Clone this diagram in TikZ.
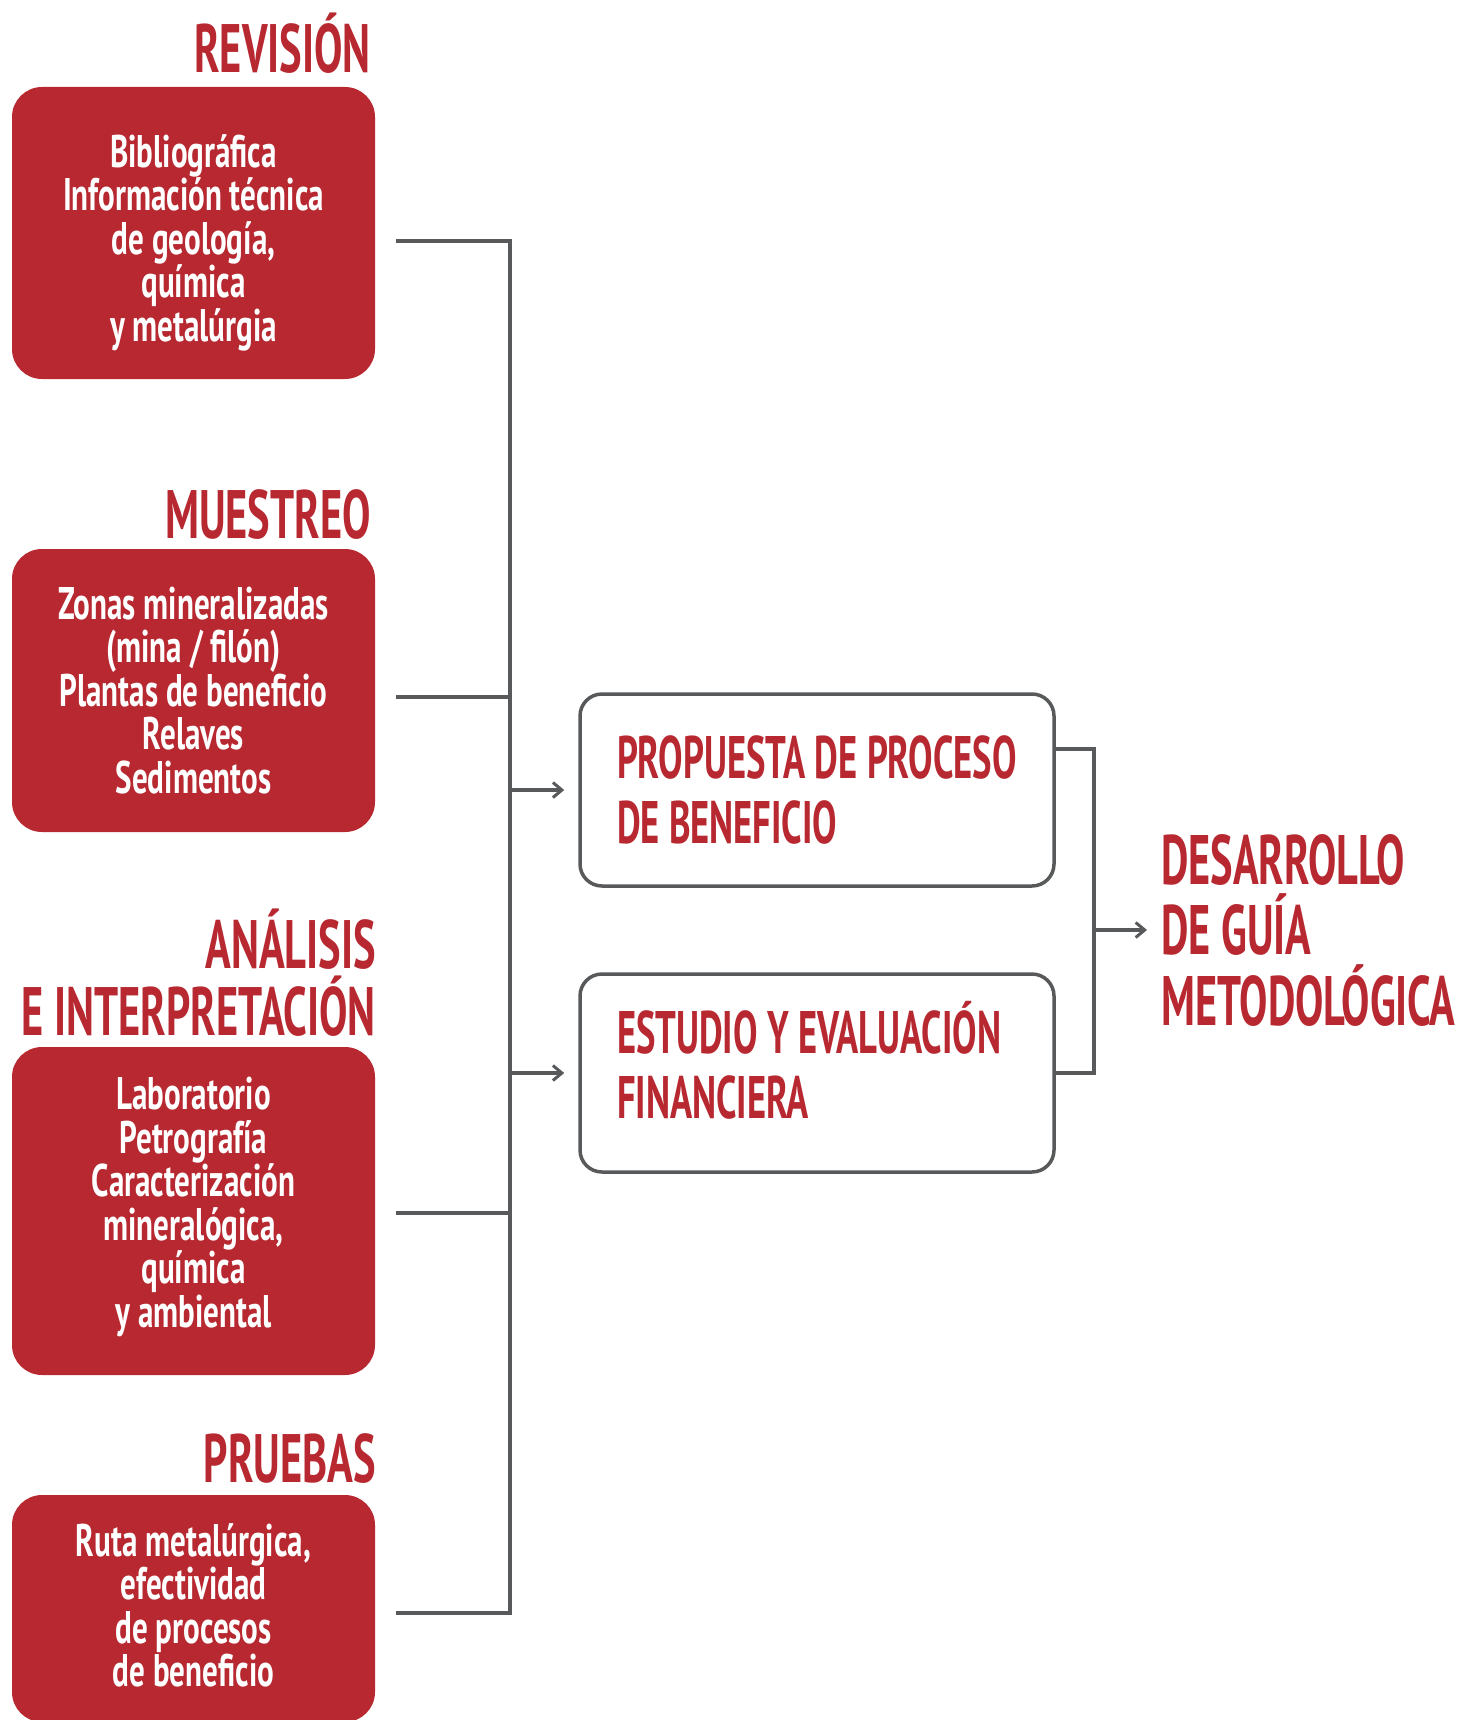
\documentclass[tikz,border=0pt]{standalone}
\usepackage{fontspec}
\setmainfont{PT Sans}
\newfontfamily\headfont{PT Sans}[FakeStretch=0.62]
\newfontfamily\stepfont{PT Sans}[FakeStretch=0.61]
\newfontfamily\goalfont{PT Sans}[FakeStretch=0.605]
\newfontfamily\boxfont{PT Sans}[FakeStretch=0.68]
\usepackage{xcolor}
\usepackage{tikz}
\usetikzlibrary{arrows.meta,calc}
\usetikzlibrary{positioning}

\definecolor{minered}{RGB}{183,40,48}
\definecolor{linegray}{RGB}{88,89,91}

\newcommand{\boxtext}{\boxfont\bfseries\fontsize{45.7}{43.5}\selectfont}
\newcommand{\headtext}{\headfont\bfseries\fontsize{68.5}{67}\selectfont}
\newcommand{\steptext}{\stepfont\bfseries\fontsize{60}{65}\selectfont}
\newcommand{\goaltext}{\goalfont\bfseries\fontsize{70}{70.5}\selectfont}

\tikzset{
  redbox/.style={fill=minered, rounded corners=30pt, minimum width=363pt, text=white, align=center, font=\boxtext, inner sep=0pt},
  heading/.style={text=minered, font=\headtext, inner sep=0pt, align=right},
  stepbox/.style={draw=linegray, line width=3.5pt, rounded corners=22pt, minimum width=474pt, text width=410pt, align=flush left, text=minered, font=\steptext, inner xsep=32pt, inner ysep=0pt, execute at begin node={\leftskip=5pt}},
  link/.style={draw=linegray, line width=3.5pt},
  tip/.style={-{Straight Barb[length=9pt,width=15pt,line width=3pt]}}
}

\begin{document}
\begin{tikzpicture}[x=1pt,y=-1pt]
\useasboundingbox (0,0) rectangle (1464,1720);

% Headings (base = last line)
\node[heading, anchor=base east] (hrev) at (371,73) {REVISIÓN};
\node[heading, anchor=base east] (hmue) at (371,538) {MUESTREO};
\node[heading, anchor=base east] (hana) at (376,1035) {ANÁLISIS\\E INTERPRETACIÓN};
\node[heading, anchor=base east] (hpru) at (376,1482) {PRUEBAS};

% Red boxes
\node[redbox, minimum height=292pt] (rev) at (193.5,233) {\rule{0pt}{52pt}Bibliográfica\\Información técnica\\de geología,\\química\\y metalúrgia};
\node[redbox, minimum height=283pt] (mue) at (193.5,690.5) {Zonas mineralizadas\\(mina / filón)\\Plantas de beneficio\\Relaves\\Sedimentos};
\node[redbox, minimum height=328pt] (ana) at (193.5,1211) {Laboratorio\\Petrografía\\Caracterización\\mineralógica,\\química\\y ambiental\rule[-18pt]{0pt}{18pt}};
\node[redbox, minimum height=227pt] (pru) at (193.5,1608.5) {Ruta metalúrgica,\\efectividad\\de procesos\\de beneficio\rule[-7pt]{0pt}{7pt}};

% White boxes
\node[stepbox, minimum height=192pt] (prop) at (817,790) {PROPUESTA DE PROCESO\\DE BENEFICIO};
\node[stepbox, minimum height=198pt] (fin) at (817,1073) {ESTUDIO Y EVALUACIÓN\\FINANCIERA\rule[-26pt]{0pt}{26pt}};

% Result
\node[text=minered, font=\goaltext, inner sep=0pt, align=left, anchor=base west] (des) at (1161,1025) {DESARROLLO\\DE GUÍA\\METODOLÓGICA};

% Left bus
\coordinate (bus) at (510,0);
\draw[link] ([xshift=21pt,yshift=-8pt]rev.east) -- ([yshift=-8pt]rev.east -| bus) -- ([yshift=-4.5pt]pru.east -| bus) -- ([xshift=21pt,yshift=-4.5pt]pru.east);
\draw[link] ([xshift=21pt,yshift=-6.5pt]mue.east) -- ([yshift=-6.5pt]mue.east -| bus);
\draw[link] ([xshift=21pt,yshift=-2pt]ana.east) -- ([yshift=-2pt]ana.east -| bus);
\draw[link, tip] (prop.west -| bus) -- ([xshift=-14pt]prop.west);
\draw[link, tip] (fin.west -| bus) -- ([xshift=-14pt]fin.west);

% Right bus
\coordinate (join) at ([xshift=38pt]prop.east);
\draw[link] ([yshift=41pt]prop.east) -- ([yshift=41pt]join) |- (fin.east);
\draw[link, tip] (join |- des.west) -- ([xshift=-14pt]des.west);

\end{tikzpicture}
\end{document}
